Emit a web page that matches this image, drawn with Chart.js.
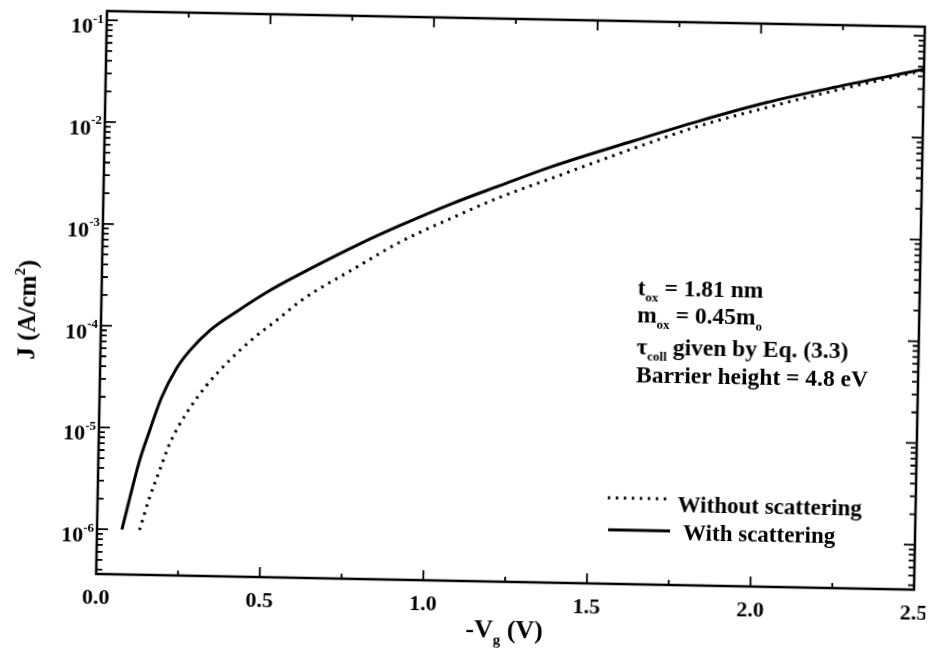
<!DOCTYPE html>
<html>
<head>
<meta charset="utf-8">
<script src="https://cdn.jsdelivr.net/npm/chart.js@4.4.1/dist/chart.umd.min.js"></script>
<style>
  html, body { margin: 0; padding: 0; background: #fff; overflow: hidden; }
  #wrap { width: 931px; height: 651px; }
  /* the scanned figure sits slightly tilted */
  #plot { display: block; transform: rotate(1.1deg); transform-origin: 50% 50%; }
</style>
</head>
<body>
<div id="wrap"><canvas id="plot" width="931" height="651"></canvas></div>
<script>
// values: -Vg (V) and J (A/cm^2)
const vWith = [0.076, 0.126, 0.155, 0.189, 0.233, 0.273, 0.333, 0.413, 0.514, 0.655, 0.776, 0.907, 1.059, 1.211, 1.363, 1.616, 1.818, 2.021, 2.224, 2.5];
const jWith = [1.0e-6, 4.8e-6, 9.5e-6, 2.0e-5, 3.9e-5, 5.9e-5, 9.4e-5, 1.45e-4, 2.38e-4, 4.27e-4, 6.84e-4, 1.09e-3, 1.80e-3, 2.82e-3, 4.37e-3, 8.2e-3, 1.33e-2, 2.07e-2, 2.99e-2, 4.7e-2];

const vWithout = [0.130, 0.159, 0.188, 0.217, 0.266, 0.326, 0.395, 0.465, 0.536, 0.611, 0.778, 0.908, 1.060, 1.211, 1.363, 1.616, 1.819, 2.022, 2.224, 2.5];
const jWithout = [1.0e-6, 2.11e-6, 3.89e-6, 7.14e-6, 1.42e-5, 2.7e-5, 4.82e-5, 7.94e-5, 1.21e-4, 1.93e-4, 4.19e-4, 7.5e-4, 1.30e-3, 2.16e-3, 3.35e-3, 6.9e-3, 1.19e-2, 1.85e-2, 2.77e-2, 4.6e-2];

const xTickLabels = ['0.0', '0.5', '1.0', '1.5', '2.0', '2.5'];
const yTickExps = [-1, -2, -3, -4, -5, -6];
const legendLabels = ['Without scattering', 'With scattering'];

const FONT = '"Liberation Serif", "Times New Roman", serif';
const f = size => 'bold ' + size + 'px ' + FONT;

// text lines of the note box, with subscripts
const notes = [
  [{t: 't'}, {t: 'ox', sub: true}, {t: ' = 1.81 nm'}],
  [{t: 'm'}, {t: 'ox', sub: true}, {t: ' = 0.45m'}, {t: 'o', sub: true}],
  [{t: 'τ'}, {t: 'coll', sub: true}, {t: ' given by Eq. (3.3)'}],
  [{t: 'Barrier height = 4.8 eV'}]
];

function drawParts(ctx, parts, x, y, align) {
  let w = 0;
  for (const p of parts) { ctx.font = f(p.size); p.w = ctx.measureText(p.t).width; w += p.w; }
  let cx = align === 'right' ? x - w : align === 'center' ? x - w / 2 : x;
  for (const p of parts) {
    ctx.font = f(p.size);
    ctx.fillText(p.t, cx, y + (p.dy || 0));
    cx += p.w;
  }
}

const frame = {
  id: 'frame',
  afterDatasetsDraw(chart) {
    const {ctx, chartArea: a, scales: {x, y}} = chart;
    ctx.save();
    ctx.strokeStyle = '#000';
    ctx.fillStyle = '#000';
    ctx.textBaseline = 'alphabetic';

    ctx.lineWidth = 2.5;
    ctx.strokeRect(a.left, a.top, a.right - a.left, a.bottom - a.top);

    // x ticks, inward on bottom and top
    ctx.lineWidth = 1.8;
    ctx.beginPath();
    const xMajor = xTickLabels.map(Number);
    xMajor.forEach((v, i) => {
      const px = x.getPixelForValue(v);
      ctx.moveTo(px, a.bottom); ctx.lineTo(px, a.bottom - 10);
      ctx.moveTo(px, a.top); ctx.lineTo(px, a.top + 10);
      if (i < xMajor.length - 1) {
        const pm = x.getPixelForValue((v + xMajor[i + 1]) / 2);
        ctx.moveTo(pm, a.bottom); ctx.lineTo(pm, a.bottom - 5);
        ctx.moveTo(pm, a.top); ctx.lineTo(pm, a.top + 5);
      }
    });
    // y ticks, log decades plus minors, on left and right
    for (let e = -7; e <= 0; e++) {
      for (let m = 1; m <= 9; m++) {
        const v = m * Math.pow(10, e);
        if (v < y.min || v > y.max) continue;
        const py = y.getPixelForValue(v), len = m === 1 ? 11 : 6;
        ctx.moveTo(a.left, py); ctx.lineTo(a.left + len, py);
        ctx.moveTo(a.right, py); ctx.lineTo(a.right - len, py);
      }
    }
    ctx.stroke();

    // tick labels
    ctx.textAlign = 'left';
    yTickExps.forEach(e => {
      const py = y.getPixelForValue(Math.pow(10, e));
      drawParts(ctx, [{t: '10', size: 22}, {t: '-' + Math.abs(e), size: 13, dy: -10.5}], a.left - 3, py + 13, 'right');
    });
    xTickLabels.forEach(s => {
      const px = x.getPixelForValue(Number(s));
      drawParts(ctx, [{t: s, size: 22}], px, a.bottom + 30, 'center');
    });

    // axis titles
    drawParts(ctx, [{t: '-V', size: 26}, {t: 'g', size: 15, dy: 7}, {t: ' (V)', size: 26}], (a.left + a.right) / 2, a.bottom + 56, 'center');
    ctx.save();
    ctx.translate(35, 318);
    ctx.rotate(-Math.PI / 2);
    drawParts(ctx, [{t: 'J (A/cm', size: 25}, {t: '2', size: 15, dy: -11}, {t: ')', size: 25}], 0, 0, 'center');
    ctx.restore();

    // note box
    const noteY = [291.5, 318.5, 351, 378.5];
    notes.forEach((line, i) => {
      drawParts(ctx, line.map(p => p.sub ? {t: p.t, size: 13, dy: 6} : {t: p.t, size: 23.5}), 637, noteY[i], 'left');
    });

    // legend
    ctx.lineWidth = 3;
    ctx.setLineDash([2.5, 5.5]);
    ctx.beginPath(); ctx.moveTo(611, 495); ctx.lineTo(671, 495); ctx.stroke();
    ctx.setLineDash([]);
    ctx.beginPath(); ctx.moveTo(612, 527); ctx.lineTo(674, 527); ctx.stroke();
    drawParts(ctx, [{t: legendLabels[0], size: 23}], 681, 508, 'left');
    drawParts(ctx, [{t: legendLabels[1], size: 23}], 687, 536, 'left');

    ctx.restore();
  }
};

new Chart(document.getElementById('plot'), {
  type: 'line',
  data: {
    datasets: [
      {
        label: legendLabels[0],
        data: vWithout.map((v, i) => ({x: v, y: jWithout[i]})),
        borderColor: '#000',
        borderWidth: 3,
        borderDash: [2.5, 5.5],
        pointRadius: 0,
        cubicInterpolationMode: 'monotone'
      },
      {
        label: legendLabels[1],
        data: vWith.map((v, i) => ({x: v, y: jWith[i]})),
        borderColor: '#000',
        borderWidth: 3,
        pointRadius: 0,
        cubicInterpolationMode: 'monotone'
      }
    ]
  },
  options: {
    responsive: false,
    animation: false,
    events: [],
    layout: {padding: {left: 101, top: 18, right: 12, bottom: 70}},
    scales: {
      x: {type: 'linear', min: 0, max: 2.5, display: false},
      y: {type: 'logarithmic', min: Math.pow(10, -6.44), max: Math.pow(10, -0.91), display: false}
    },
    plugins: {legend: {display: false}, tooltip: {enabled: false}}
  },
  plugins: [frame]
});
</script>
</body>
</html>
